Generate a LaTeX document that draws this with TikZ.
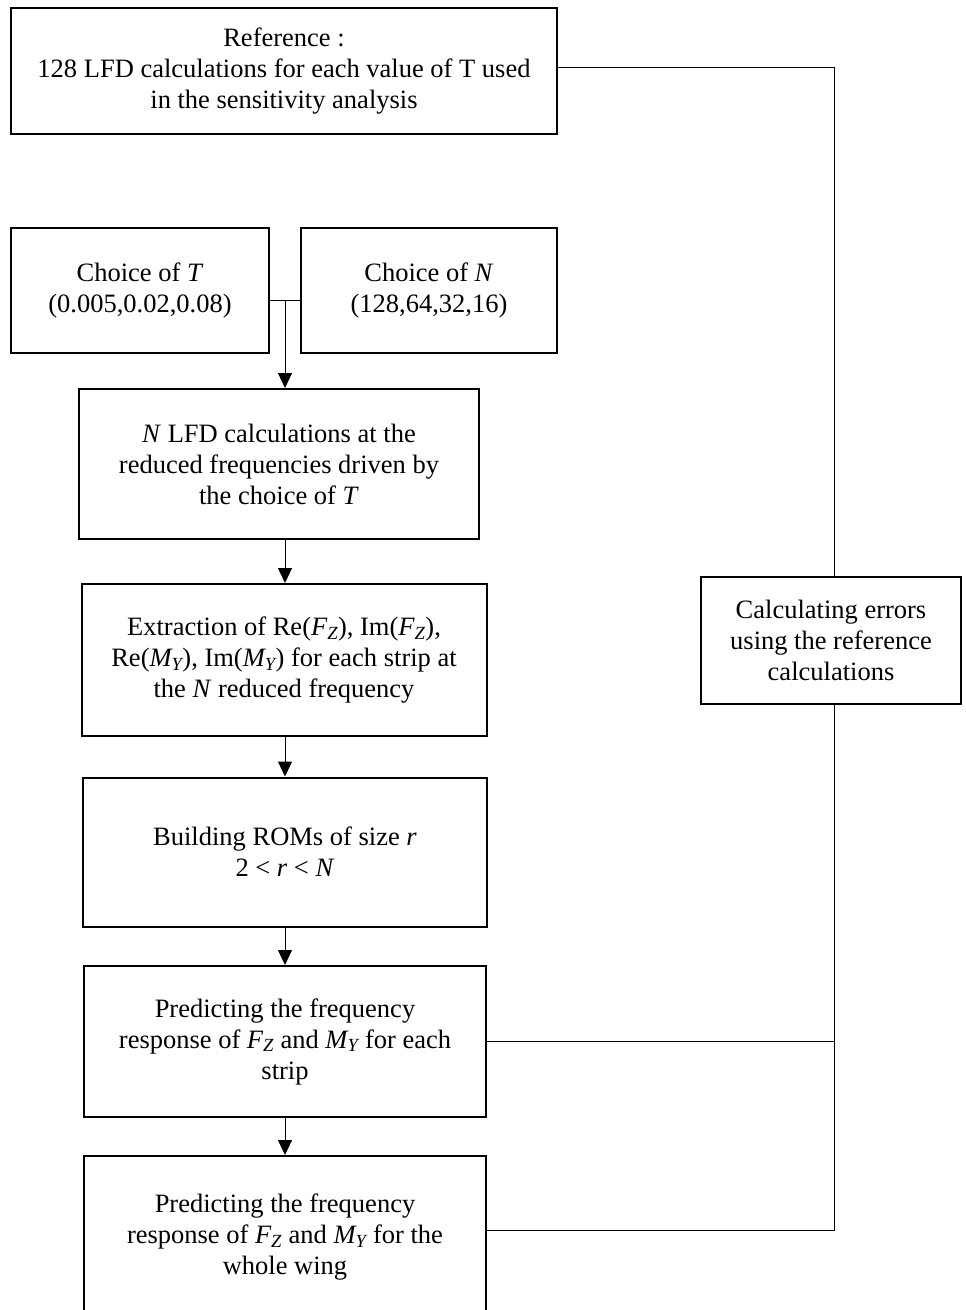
\documentclass[tikz,border=0pt]{standalone}
\usepackage{fontspec}
\setmainfont{Liberation Serif}
\usepackage{tikz}
\usetikzlibrary{arrows.meta}

\tikzset{
  stepbox/.style={draw, line width=2pt, align=center, inner sep=0pt,
    font=\fontsize{26.5}{31}\selectfont},
  link/.style={line width=1pt},
  flow/.style={line width=1pt, -{Triangle[length=15pt,width=14pt]}}
}

\begin{document}
\begin{tikzpicture}[x=1pt, y=-1pt]
        \useasboundingbox (0,0) rectangle (966,1310);
        \clip (0,0) rectangle (966,1310);
        \node[stepbox, minimum width=546pt, minimum height=126pt] (ref) at (284,71)
          {Reference :\\128 LFD calculations for each value of T used\\in the sensitivity analysis};
        \node[stepbox, minimum width=258pt, minimum height=125pt] (choiceT) at (140,290.5)
          {Choice of \textit{T}\\(0.005,0.02,0.08)};
        \node[stepbox, minimum width=256pt, minimum height=125pt] (choiceN) at (429,290.5)
          {Choice of \textit{N}\\(128,64,32,16)};
        \node[stepbox, minimum width=400pt, minimum height=150pt] (lfd) at (279,464)
          {\textit{N} LFD calculations at the\\reduced frequencies driven by\\the choice of \textit{T}};
        \node[stepbox, minimum width=405pt, minimum height=152pt] (extract) at (284,660)
          {Extraction of Re(\textit{F\textsubscript{Z}}), Im(\textit{F\textsubscript{Z}}),\\Re(\textit{M\textsubscript{Y}}), Im(\textit{M\textsubscript{Y}}) for each strip at\\the \textit{N} reduced frequency};
        \node[stepbox, minimum width=404pt, minimum height=149pt] (roms) at (285,852)
          {Building ROMs of size \textit{r}\\2 < \textit{r} < \textit{N}};
        \node[stepbox, minimum width=402pt, minimum height=151pt] (strip) at (285,1041.5)
          {Predicting the frequency\\response of \textit{F\textsubscript{Z}} and \textit{M\textsubscript{Y}} for each\\strip};
        \node[stepbox, minimum width=402pt, minimum height=162pt] (wing) at (285,1237)
          {Predicting the frequency\\response of \textit{F\textsubscript{Z}} and \textit{M\textsubscript{Y}} for the\\whole wing};
        \node[stepbox, minimum width=260pt, minimum height=127pt] (errors) at (831,640.5)
          {Calculating errors\\using the reference\\calculations};

        \coordinate (j) at (285,300);
        \coordinate (c1) at (834,67);
        \coordinate (c2) at (834,1230);
        \draw[link] (choiceT.east |- j) -- (choiceN.west |- j);
        \draw[flow] (j) -- (lfd.north -| j);
        \draw[flow] (lfd.south -| j) -- (extract.north -| j);
        \draw[flow] (extract.south -| j) -- (roms.north -| j);
        \draw[flow] (roms.south -| j) -- (strip.north -| j);
        \draw[flow] (strip.south -| j) -- (wing.north -| j);
        \draw[link] (ref.east |- c1) -- (c1) -- (errors.north -| c1);
        \draw[link] (errors.south -| c1) -- (c2) -- (wing.east |- c2);
        \draw[link] (strip.east) -- (strip.east -| c1);
     \end{tikzpicture}
\end{document}
